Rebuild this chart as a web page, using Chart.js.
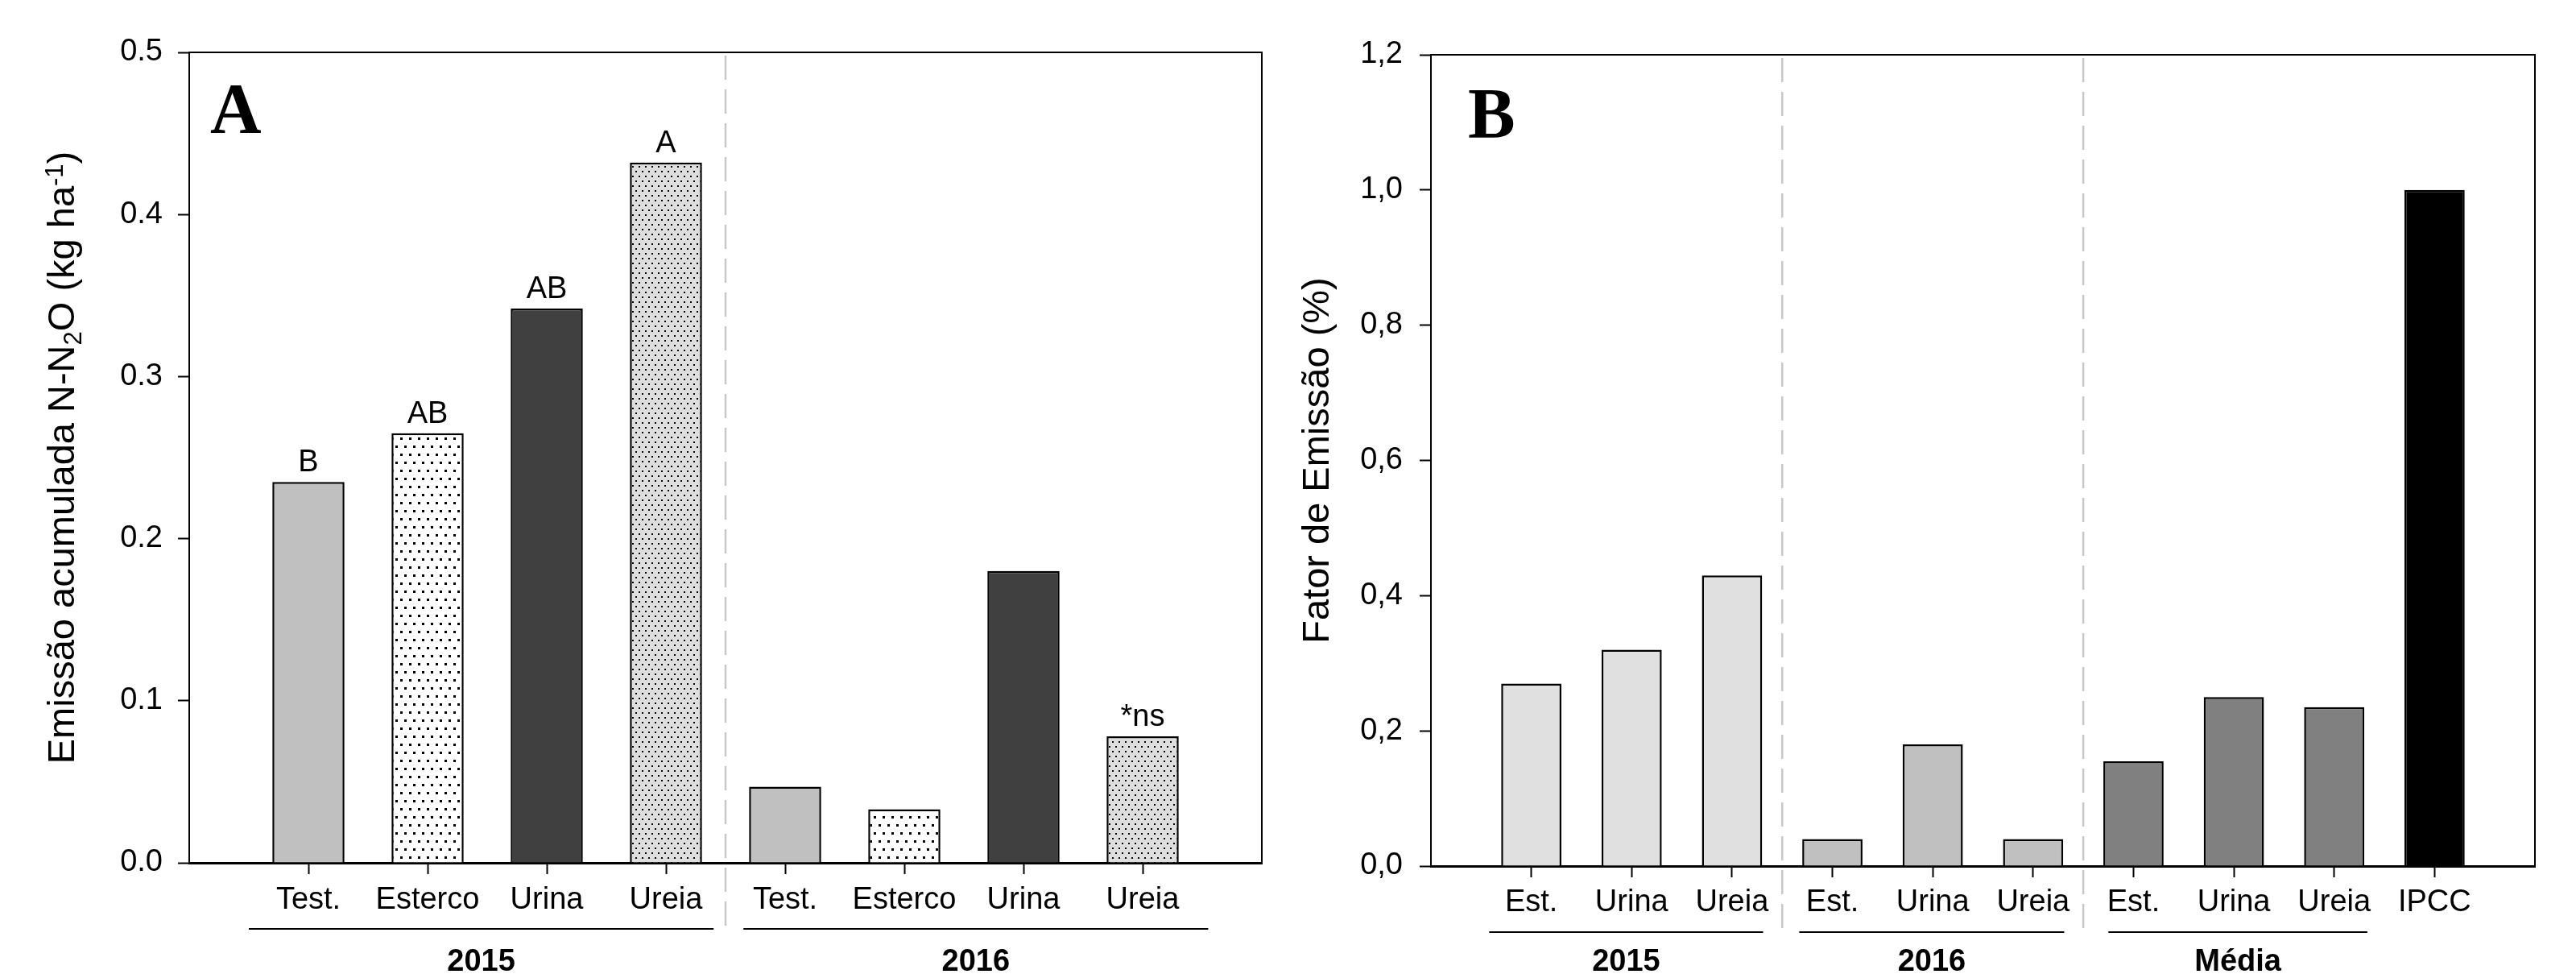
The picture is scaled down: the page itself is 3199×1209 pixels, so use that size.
<!DOCTYPE html>
<html>
<head>
<meta charset="utf-8">
<script src="https://cdn.jsdelivr.net/npm/chart.js@4"></script>
<style>
  body { margin: 0; background: #fff; }
  #wrapA { position: absolute; left: 0; top: 0; width: 1600px; height: 1209px; }
  #wrapB { position: absolute; left: 1600px; top: 0; width: 1599px; height: 1209px; }
</style>
</head>
<body>
<div id="wrapA"><canvas id="graficoA"></canvas></div>
<div id="wrapB"><canvas id="graficoB"></canvas></div>
<script>
// Painel A - emissao acumulada de N-N2O
const categoriasA = ['', 'Test.', 'Esterco', 'Urina', 'Ureia', 'Test.', 'Esterco', 'Urina', 'Ureia', '']
const emissaoA = [null, 0.235, 0.265, 0.342, 0.432, 0.047, 0.033, 0.180, 0.078, null]
const letrasA = ['', 'B', 'AB', 'AB', 'A', '', '', '', '*ns', '']
const ticksA = [0, 0.1, 0.2, 0.3, 0.4, 0.5]
const gruposA = ['2015', '2016']
const indicesGruposA = [[1, 4], [5, 8]]

// Painel B - fator de emissao
const categoriasB = ['', 'Est.', 'Urina', 'Ureia', 'Est.', 'Urina', 'Ureia', 'Est.', 'Urina', 'Ureia', 'IPCC', '']
const fatorB = [null, 0.27, 0.32, 0.43, 0.04, 0.18, 0.04, 0.155, 0.25, 0.235, 1.0, null]
const ticksB = [0, 0.2, 0.4, 0.6, 0.8, 1.0, 1.2]
const gruposB = ['2015', '2016', 'Média']
const indicesGruposB = [[1, 3], [4, 6], [7, 9]]

const fonte = '"Liberation Sans", Arial, sans-serif'

function padraoPontos(fundo, w, h, pontos, tam) {
  const c = document.createElement('canvas')
  c.width = w
  c.height = h
  const g = c.getContext('2d')
  g.fillStyle = fundo
  g.fillRect(0, 0, w, h)
  g.fillStyle = '#000'
  pontos.forEach(p => g.fillRect(p[0], p[1], tam, tam))
  return g.createPattern(c, 'repeat')
}

const esterco = padraoPontos('#ffffff', 11, 20, [[2, 3], [7, 13]], 3)
const ureia = padraoPontos('#dedede', 8, 12, [[1, 2], [5, 8]], 2)

const coresA = [null, '#c0c0c0', esterco, '#404040', ureia, '#c0c0c0', esterco, '#404040', ureia, null]
const coresB = [null, '#e0e0e0', '#e0e0e0', '#e0e0e0', '#c0c0c0', '#c0c0c0', '#c0c0c0', '#808080', '#808080', '#808080', '#000000', null]

function tituloY(ctx, partes, xBase, yCentro) {
  ctx.save()
  ctx.translate(xBase, yCentro)
  ctx.rotate(-Math.PI / 2)
  ctx.fillStyle = '#000'
  ctx.textBaseline = 'alphabetic'
  ctx.textAlign = 'left'
  const larguras = partes.map(p => { ctx.font = p.fonte; return ctx.measureText(p.texto).width })
  let x = -larguras.reduce((a, b) => a + b, 0) / 2
  partes.forEach((p, i) => {
    ctx.font = p.fonte
    ctx.fillText(p.texto, x, p.dy || 0)
    x += larguras[i]
  })
  ctx.restore()
}

function extras(cfg) {
  return {
    id: 'extras' + cfg.letra,
    afterDraw(chart) {
      const ctx = chart.ctx
      const ca = chart.chartArea
      const xs = chart.scales.x
      ctx.save()

      // moldura superior e direita
      ctx.strokeStyle = '#000'
      ctx.lineWidth = 2
      ctx.beginPath()
      ctx.moveTo(ca.left, ca.top)
      ctx.lineTo(ca.right, ca.top)
      ctx.lineTo(ca.right, ca.bottom)
      ctx.stroke()

      // divisorias tracejadas entre grupos
      ctx.strokeStyle = '#c8c8c8'
      ctx.lineWidth = 2.5
      ctx.setLineDash([30, 12])
      for (let i = 0; i < cfg.indices.length - 1; i++) {
        const px = xs.getPixelForValue((cfg.indices[i][1] + cfg.indices[i + 1][0]) / 2)
        ctx.beginPath()
        ctx.moveTo(px, ca.top + 4)
        ctx.lineTo(px, cfg.yLinha)
        ctx.stroke()
      }
      ctx.setLineDash([])

      // linhas e nomes dos grupos
      ctx.strokeStyle = '#000'
      ctx.lineWidth = 2
      ctx.fillStyle = '#000'
      ctx.textAlign = 'center'
      ctx.textBaseline = 'alphabetic'
      ctx.font = 'bold 38px ' + fonte
      cfg.indices.forEach((ind, i) => {
        const x1 = xs.getPixelForValue(ind[0] + cfg.folgas[i][0])
        const x2 = xs.getPixelForValue(ind[1] + cfg.folgas[i][1])
        ctx.beginPath()
        ctx.moveTo(x1, cfg.yLinha)
        ctx.lineTo(x2, cfg.yLinha)
        ctx.stroke()
        ctx.fillText(cfg.grupos[i], (x1 + x2) / 2, cfg.yGrupo)
      })

      // letras sobre as barras
      if (cfg.letras) {
        ctx.font = '38px ' + fonte
        const barras = chart.getDatasetMeta(0).data
        cfg.letras.forEach((l, i) => {
          if (l) ctx.fillText(l, barras[i].x, barras[i].y - 13)
        })
      }

      // letra do painel
      ctx.textAlign = 'left'
      ctx.font = 'bold 88px "Liberation Serif", "Times New Roman", serif'
      ctx.fillText(cfg.letra, ca.left + cfg.letraDx, ca.top + cfg.letraDy)

      ctx.restore()

      // titulo do eixo y
      tituloY(ctx, cfg.titulo, cfg.xTitulo, (ca.top + ca.bottom) / 2)
    }
  }
}

function opcoes(cats, ticks, max, larguraY, alturaX, padTop, padRight, padY, padX, virgula) {
  return {
    responsive: true,
    maintainAspectRatio: false,
    animation: false,
    layout: { padding: { top: padTop, right: padRight, left: 0, bottom: 0 } },
    plugins: { legend: { display: false }, tooltip: { enabled: false } },
    scales: {
      x: {
        offset: false,
        grid: {
          offset: false,
          drawOnChartArea: false,
          tickLength: 14,
          tickWidth: 2,
          tickColor: c => cats[c.index] ? '#000' : 'rgba(0,0,0,0)'
        },
        border: { color: '#000', width: 3 },
        ticks: {
          autoSkip: false,
          maxRotation: 0,
          padding: padX,
          color: '#000',
          font: { family: fonte, size: 38 }
        },
        afterFit: s => { s.height = alturaX }
      },
      y: {
        min: 0,
        max: max,
        afterBuildTicks: s => { s.ticks = ticks.map(v => ({ value: v })) },
        grid: { drawOnChartArea: false, tickLength: 14, tickWidth: 2, tickColor: '#000' },
        border: { color: '#000', width: 2 },
        ticks: {
          padding: padY,
          color: '#000',
          font: { family: fonte, size: 38 },
          callback: v => virgula ? v.toFixed(1).replace('.', ',') : v.toFixed(1)
        },
        afterFit: s => { s.width = larguraY }
      }
    }
  }
}

new Chart(document.getElementById('graficoA'), {
  type: 'bar',
  data: {
    labels: categoriasA,
    datasets: [{
      data: emissaoA,
      backgroundColor: coresA,
      borderColor: '#000',
      borderWidth: 2.5,
      categoryPercentage: 1,
      barPercentage: 0.605
    }]
  },
  options: opcoes(categoriasA, ticksA, 0.5, 235, 138, 65, 33, 19, 10, false),
  plugins: [extras({
    letra: 'A', letraDx: 26, letraDy: 99,
    indices: indicesGruposA, grupos: gruposA,
    folgas: [[-0.5, 0.4], [-0.35, 0.55]],
    yLinha: 1153, yGrupo: 1205,
    letras: letrasA,
    xTitulo: 92,
    titulo: [
      { texto: 'Emissão acumulada N-N', fonte: '47px ' + fonte },
      { texto: '2', fonte: '31px ' + fonte, dy: 9 },
      { texto: 'O (kg ha', fonte: '47px ' + fonte },
      { texto: '-1', fonte: '31px ' + fonte, dy: -14 },
      { texto: ')', fonte: '47px ' + fonte }
    ]
  })]
})

new Chart(document.getElementById('graficoB'), {
  type: 'bar',
  data: {
    labels: categoriasB,
    datasets: [{
      data: fatorB,
      backgroundColor: coresB,
      borderColor: '#000',
      borderWidth: 2.5,
      categoryPercentage: 1,
      barPercentage: 0.6
    }]
  },
  options: opcoes(categoriasB, ticksB, 1.2, 177, 134, 68, 51, 21, 9, true),
  plugins: [extras({
    letra: 'B', letraDx: 46, letraDy: 102,
    indices: indicesGruposB, grupos: gruposB,
    folgas: [[-0.42, 0.31], [-0.33, 0.31], [-0.25, 0.33]],
    yLinha: 1157, yGrupo: 1205,
    letras: null,
    xTitulo: 50,
    titulo: [{ texto: 'Fator de Emissão (%)', fonte: '47px ' + fonte }]
  })]
})
</script>
</body>
</html>
